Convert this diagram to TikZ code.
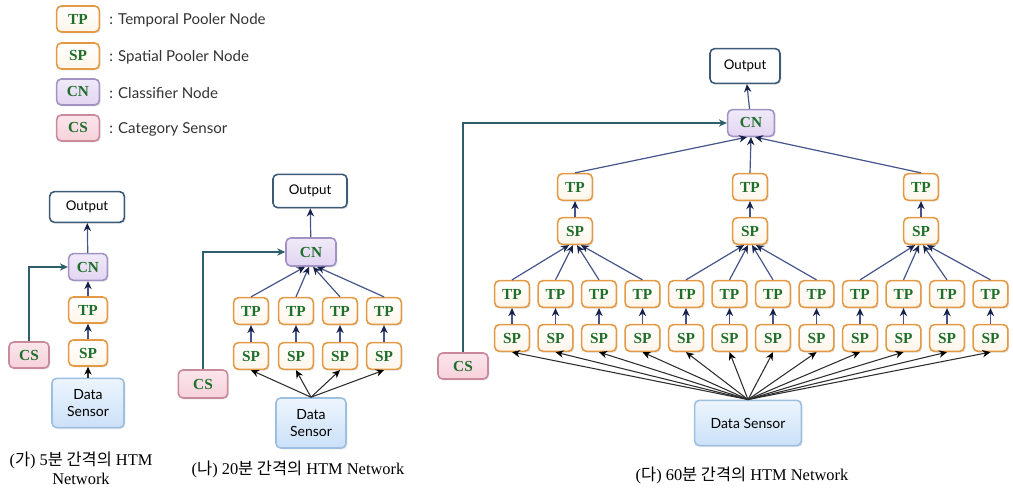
\documentclass[tikz,border=0pt]{standalone}
\usepackage{fontspec}
\setmainfont{Liberation Serif}
\newfontfamily\labfont{Lato}
\newfontfamily\krfont{Noto Sans CJK KR}
\usetikzlibrary{arrows.meta,shadows}

\definecolor{poolborder}{HTML}{E49A45}
\definecolor{poolfill}{HTML}{FFF6EA}
\definecolor{tagtext}{HTML}{1F6E2A}
\definecolor{cnfill}{HTML}{E2D5F2}
\definecolor{cnborder}{HTML}{A393C4}
\definecolor{csfill}{HTML}{F7D1DB}
\definecolor{csborder}{HTML}{C98B9C}
\definecolor{dsfill}{HTML}{CBE1F8}
\definecolor{dsborder}{HTML}{9DBFE2}
\definecolor{outborder}{HTML}{3D5B79}
\definecolor{upline}{HTML}{45548A}
\definecolor{tipcol}{HTML}{16214A}
\definecolor{csline}{HTML}{2E5E6A}
\definecolor{dsline}{HTML}{2E2E2E}

\begin{document}
\begin{tikzpicture}[x=0.75pt,y=-0.75pt,
  box/.style={rounded corners=3.5pt, line width=1.2pt,
    drop shadow={opacity=0.22, shadow xshift=1pt, shadow yshift=-1pt}},
  tag/.style={box, font=\bfseries\fontsize{11.5}{12}\selectfont, text=tagtext},
  pool/.style={tag, draw=poolborder, top color=white, bottom color=poolfill,
    minimum width=26pt, minimum height=20pt, inner sep=0pt},
  cnbox/.style={tag, draw=cnborder, top color=cnfill!50, bottom color=cnfill,
    inner sep=0pt},
  csbox/.style={tag, draw=csborder, top color=csfill!55, bottom color=csfill,
    inner sep=0pt},
  outbox/.style={box, draw=outborder, fill=white, font=\labfont\fontsize{10}{12}\selectfont,
    inner sep=0pt},
  dsbox/.style={box, draw=dsborder, top color=dsfill!35, bottom color=dsfill,
    font=\labfont\fontsize{10.5}{13}\selectfont, align=center, inner sep=0pt},
  legtext/.style={font=\labfont\fontsize{11.3}{13}\selectfont, text=black!80, anchor=west, inner sep=0pt},
  caption/.style={font=\fontsize{12.3}{14}\selectfont, align=center, inner sep=0pt},
  up/.style={draw=upline, line width=0.9pt, -{Stealth[length=6pt,width=5.5pt,color=tipcol]}},
  feed/.style={draw=dsline, line width=0.8pt, -{Stealth[length=6pt,width=5.5pt,color=black]}},
  cat/.style={draw=csline, line width=0.9pt, -{Stealth[length=6pt,width=5.5pt,color=csline]}}
]
\useasboundingbox (0,0) rectangle (1013,488);

% ---------- legend ----------
\node[pool, minimum width=32pt, minimum height=19.5pt] (lTP) at (78,19) {TP};
\node[pool, minimum width=32pt, minimum height=19.5pt] (lSP) at (78,56) {SP};
\node[cnbox, minimum width=32pt, minimum height=19.5pt] (lCN) at (78,92) {CN};
\node[csbox, minimum width=32pt, minimum height=19.5pt] (lCS) at (78,128) {CS};
\node[legtext] (lTPt) at (109,20) {: Temporal Pooler Node};
\node[legtext] (lSPt) at (109,57) {: Spatial Pooler Node};
\node[legtext] (lCNt) at (109,93) {: Classifier Node};
\node[legtext] (lCSt) at (109,129) {: Category Sensor};

% ---------- network of 5-minute interval ----------
\node[outbox, minimum width=56pt, minimum height=23pt] (aOut) at (87,207) {Output};
\node[cnbox, minimum width=29pt, minimum height=20pt] (aCN) at (88,267) {CN};
\node[pool, minimum width=29pt, minimum height=19.5pt] (aTP) at (88,310) {TP};
\node[pool, minimum width=29pt, minimum height=19.5pt] (aSP) at (88,353) {SP};
\node[csbox, minimum width=30pt, minimum height=19.5pt] (aCS) at (29,355) {CS};
\node[dsbox, minimum width=54pt, minimum height=37pt] (aDS) at (88,403) {Data\\Sensor};

\draw[feed] (aDS) -- (aSP);
\draw[up] (aSP) -- (aTP);
\draw[up] (aTP) -- (aCN);
\draw[up] (aCN) -- (aOut);
\draw[cat] (aCS.north) |- (aCN.west);

\node[caption] (aCap) at (81,468) {({\krfont 가}) 5{\krfont 분 간격의} HTM\\Network};

% ---------- network of 20-minute interval ----------
\node[outbox, minimum width=55.5pt, minimum height=25pt] (bOut) at (310,191) {Output};
\node[cnbox, minimum width=37.5pt, minimum height=21pt] (bCN) at (311,252) {CN};
\node[csbox, minimum width=37pt, minimum height=21pt] (bCS) at (203,384) {CS};
\node[dsbox, minimum width=52.5pt, minimum height=37.5pt] (bDS) at (311,423) {Data\\Sensor};
\foreach \x [count=\i] in {251,296,340,384} {
  \node[pool] (bTP\i) at (\x,311) {TP};
  \node[pool] (bSP\i) at (\x,356) {SP};
}
\foreach \i/\dx in {1/-4.5,2/-1.5,3/1.5,4/4.5} {
  \draw[feed] (bDS.north) -- (bSP\i.south);
  \draw[up] (bSP\i) -- (bTP\i);
  \draw[up] (bTP\i.north) -- ([xshift=\dx pt]bCN.south);
}
\draw[up] (bCN) -- (bOut);
\draw[cat] (bCS.north) |- (bCN.west);

\node[caption] (bCap) at (298,469) {({\krfont 나}) 20{\krfont 분 간격의} HTM Network};

% ---------- network of 60-minute interval ----------
\node[outbox, minimum width=52.5pt, minimum height=26pt] (cOut) at (745,66) {Output};
\node[cnbox, minimum width=35pt, minimum height=20pt] (cCN) at (751,123) {CN};
\node[csbox, minimum width=37.5pt, minimum height=19.5pt] (cCS) at (463,366) {CS};
\node[dsbox, minimum width=80pt, minimum height=34pt] (cDS) at (748,423) {Data Sensor};

\foreach \x [count=\j] in {575,750,921} {
  \node[pool] (cTT\j) at (\x,187) {TP};
  \node[pool] (cTS\j) at (\x,231) {SP};
}
\foreach \i in {1,...,12} {
  \pgfmathsetmacro{\xx}{512+43.5*(\i-1)}
  \node[pool] (cTP\i) at (\xx,294) {TP};
  \node[pool] (cSP\i) at (\xx,338) {SP};
}

% sensor feeds every spatial pooler of the bottom level
\foreach \i in {1,...,12} {
  \draw[feed] (cDS.north) -- (cSP\i.south);
  \draw[up] (cSP\i) -- (cTP\i);
}
% bottom temporal poolers feed the three middle spatial poolers
\foreach \g in {1,2,3} {
  \foreach \k/\dx in {1/-4.5,2/-1.5,3/1.5,4/4.5} {
    \pgfmathtruncatemacro{\src}{4*(\g-1)+\k}
    \draw[up] (cTP\src.north) -- ([xshift=\dx pt]cTS\g.south);
  }
  \draw[up] (cTS\g) -- (cTT\g);
}
\draw[up] (cTT1.north) -- ([xshift=-3pt]cCN.south);
\draw[up] (cTT2.north) -- (cCN.south);
\draw[up] (cTT3.north) -- ([xshift=3pt]cCN.south);
\draw[up] (cCN) -- (cOut);
\draw[cat] (cCS.north) |- (cCN.west);

\node[caption] (cCap) at (742,475) {({\krfont 다}) 60{\krfont 분 간격의} HTM Network};
\end{tikzpicture}
\end{document}
